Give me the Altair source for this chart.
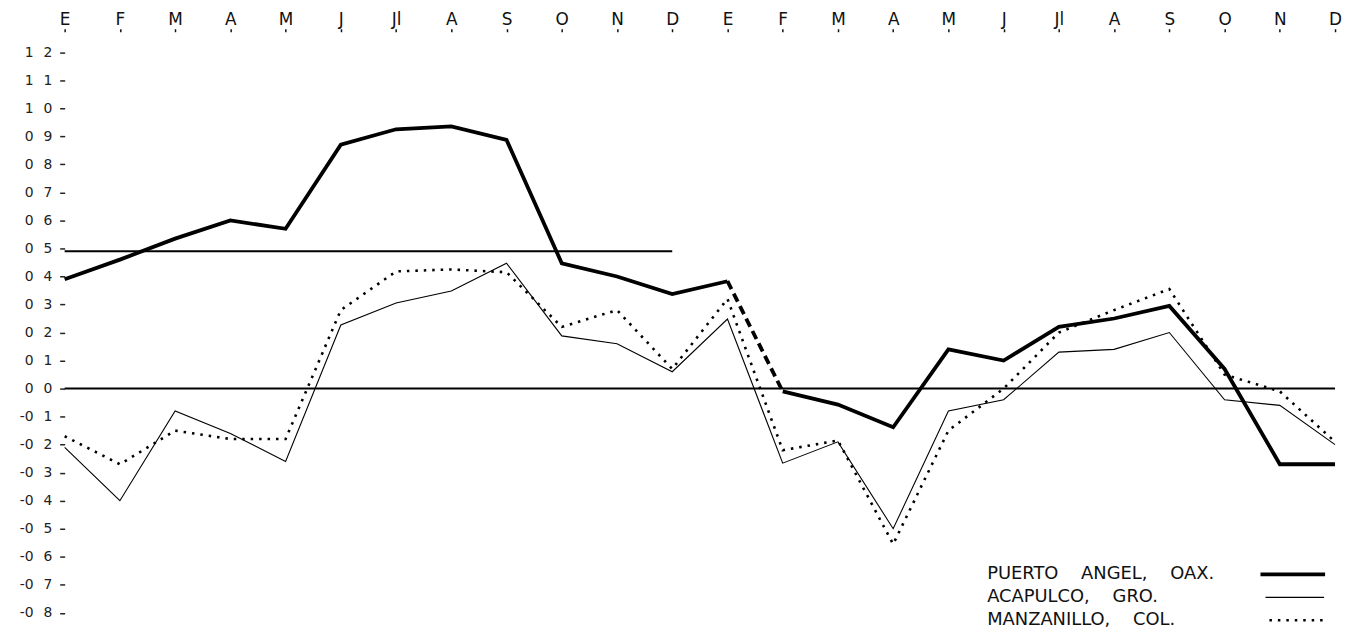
import altair as alt
import pandas as pd

# ---------------- data ----------------
month_labels = ["E", "F", "M", "A", "M", "J", "Jl", "A", "S", "O", "N", "D",
                "E", "F", "M", "A", "M", "J", "Jl", "A", "S", "O", "N", "D"]

puerto_angel = [0.39, 0.46, 0.535, 0.60, 0.57, 0.87, 0.925, 0.935, 0.887, 0.447, 0.40, 0.337,
                0.383, -0.01, -0.057, -0.138, 0.14, 0.10, 0.22, 0.25, 0.295, 0.07, -0.27, -0.27]
acapulco = [-0.21, -0.40, -0.08, -0.16, -0.26, 0.227, 0.305, 0.348, 0.447, 0.188, 0.16, 0.06,
            0.248, -0.266, -0.19, -0.50, -0.08, -0.04, 0.13, 0.14, 0.20, -0.04, -0.06, -0.20]
manzanillo = [-0.17, -0.27, -0.15, -0.18, -0.18, 0.28, 0.418, 0.425, 0.415, 0.22, 0.28, 0.07,
              0.32, -0.22, -0.185, -0.555, -0.15, 0.0, 0.20, 0.28, 0.355, 0.05, -0.01, -0.19]

ref_level = [0.49]
ref_span = [0, 11]
zero_level = [0.0]
zero_span = [0, 23]

y_tick_values = [round(-0.8 + 0.1 * k, 1) for k in range(21)]
y_tick_labels = ["-0 8", "-0 7", "-0 6", "-0 5", "-0 4", "-0 3", "-0 2", "-0 1",
                 "0 0", "0 1", "0 2", "0 3", "0 4", "0 5", "0 6", "0 7", "0 8", "0 9",
                 "1 0", "1 1", "1 2"]
series_names = ["PUERTO ANGEL, OAX.", "ACAPULCO, GRO.", "MANZANILLO, COL."]

# ---------------- tables ----------------
idx = list(range(len(month_labels)))
pa_rows = []
for i, v in enumerate(puerto_angel):
    if i <= 12:
        pa_rows.append({"i": i, "v": v, "seg": "a"})
    if 12 <= i <= 13:
        pa_rows.append({"i": i, "v": v, "seg": "b"})
    if i >= 13:
        pa_rows.append({"i": i, "v": v, "seg": "c"})
pa_df = pd.DataFrame(pa_rows)
ac_df = pd.DataFrame({"i": idx, "v": acapulco})
mz_df = pd.DataFrame({"i": idx, "v": manzanillo})
ref_df = pd.DataFrame({"i": [ref_span[0]], "i2": [ref_span[1]], "v": ref_level})
zero_df = pd.DataFrame({"i": [zero_span[0]], "i2": [zero_span[1]], "v": zero_level})

W, H = 1278, 606
FONT = "DejaVu Sans"

x_scale = alt.Scale(domain=[0, 23], nice=False, zero=False)
y_scale = alt.Scale(domain=[-0.876, 1.273], nice=False, zero=False)

x_label_arr = "[" + ",".join("'%s'" % m for m in month_labels) + "]"
y_label_arr = "[" + ",".join("'%s'" % s.replace(" ", "\u2002\u2009") for s in y_tick_labels) + "]"

x_axis = alt.Axis(orient="top", values=idx, labelExpr=x_label_arr + "[datum.value]",
                  title=None, domain=False, grid=False, ticks=True, tickSize=3,
                  tickWidth=1.5, tickColor="#111", labelFontSize=17, labelFont=FONT,
                  labelColor="#111", labelPadding=4, labelBaseline="alphabetic",
                  labelAngle=0, labelFlush=False, labelOverlap=False, labelBound=False)
y_axis = alt.Axis(values=y_tick_values,
                  labelExpr=y_label_arr + "[round((datum.value + 0.8) * 10)]",
                  title=None, domain=False, grid=False, ticks=True, tickSize=5,
                  tickWidth=1.5, tickColor="#222", labelFontSize=14, labelFont=FONT,
                  labelColor="#222", labelPadding=8, labelFlush=False, labelOverlap=False)

X = alt.X("i:Q", scale=x_scale, axis=x_axis)
Y = alt.Y("v:Q", scale=y_scale, axis=y_axis)

zero_rule = alt.Chart(zero_df).mark_rule(color="black", strokeWidth=2).encode(x=X, x2="i2:Q", y=Y)
ref_rule = alt.Chart(ref_df).mark_rule(color="black", strokeWidth=2).encode(x=X, x2="i2:Q", y=Y)

acap_line = alt.Chart(ac_df).mark_line(color="black", strokeWidth=1.1).encode(x=X, y=Y)
manz_line = alt.Chart(mz_df).mark_line(color="black", strokeWidth=2.6, strokeDash=[2.5, 6]).encode(x=X, y=Y)
pa_solid = alt.Chart(pa_df).transform_filter("datum.seg != 'b'").mark_line(
    color="black", strokeWidth=3.8).encode(x=X, y=Y, detail="seg:N")
pa_dash = alt.Chart(pa_df).transform_filter("datum.seg == 'b'").mark_line(
    color="black", strokeWidth=3.8, strokeDash=[9, 5]).encode(x=X, y=Y)

# ---------------- legend (annotation) ----------------
leg_y = [546, 569, 592]
leg_text_x = 928
leg_line = [(1203, 1268, 3.8, None), (1208, 1267, 1.1, None), (1212, 1267, 2.6, [2.5, 6])]
legend_layers = []
for k, name in enumerate(series_names):
    ldf = pd.DataFrame({"name": [name.replace(" ", "\u00a0\u00a0\u00a0\u00a0")]})
    legend_layers.append(
        alt.Chart(ldf).mark_text(align="left", baseline="middle", font=FONT, fontSize=18,
                                 color="#111").encode(
            x=alt.value(leg_text_x), y=alt.value(leg_y[k]), text="name:N"))
    x1, x2, sw, dash = leg_line[k]
    kw = {"color": "black", "strokeWidth": sw}
    if dash:
        kw["strokeDash"] = dash
    legend_layers.append(
        alt.Chart(ldf).mark_rule(**kw).encode(
            x=alt.value(x1), x2=alt.value(x2), y=alt.value(leg_y[k])))

chart = alt.layer(zero_rule, ref_rule, acap_line, manz_line, pa_solid, pa_dash,
                  *legend_layers).properties(
    width=W, height=H,
    autosize=alt.AutoSizeParams(type="none"),
    padding={"left": 57, "top": 22, "right": 7, "bottom": 0},
    background="white",
).configure_view(stroke=None)

chart.save("out.html", embed_options={"renderer": "svg", "actions": False})
